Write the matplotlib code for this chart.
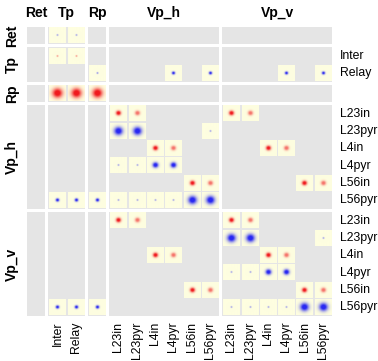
import numpy as np
import matplotlib
matplotlib.use("Agg")
import matplotlib.pyplot as plt
from matplotlib.patches import Rectangle
from matplotlib.colors import to_rgb

# Layers and their populations (row/column order of the connectivity matrix)
layer_names = ["Ret", "Tp", "Rp", "Vp_h", "Vp_v"]
layer_pops = [
    [""],
    ["Inter", "Relay"],
    [""],
    ["L23in", "L23pyr", "L4in", "L4pyr", "L56in", "L56pyr"],
    ["L23in", "L23pyr", "L4in", "L4pyr", "L56in", "L56pyr"],
]

# Connections: target population (row), source population (column),
# signed peak weight (+ excitatory, - inhibitory) and kernel width
conn_target = [
    0, 0,
    1, 1,
    2, 2, 2, 2, 2,
    3, 3, 3,
    4, 4, 4, 4,
    5, 5, 5,
    6, 6, 6, 6,
    7, 7, 7, 7,
    8, 8, 8, 8,
    9, 9, 9, 9, 9, 9, 9, 9, 9,
    10, 10, 10, 10,
    11, 11, 11,
    12, 12, 12, 12,
    13, 13, 13, 13,
    14, 14, 14, 14,
    15, 15, 15, 15, 15, 15, 15, 15, 15,
]
conn_source = [
    1, 2,
    1, 2,
    3, 7, 9, 13, 15,
    1, 2, 3,
    4, 5, 10, 11,
    4, 5, 9,
    6, 7, 12, 13,
    4, 5, 6, 7,
    8, 9, 14, 15,
    1, 2, 3, 4, 5, 6, 7, 8, 9,
    4, 5, 10, 11,
    10, 11, 15,
    6, 7, 12, 13,
    10, 11, 12, 13,
    8, 9, 14, 15,
    1, 2, 3, 10, 11, 12, 13, 14, 15,
]
conn_weight = [
    -0.5, -0.5,
    0.5, 0.5,
    -0.6, -1.0, -1.0, -1.0, -1.0,
    1.0, 1.0, 1.0,
    1.0, 0.6, 1.0, 0.6,
    -1.0, -1.0, -0.5,
    1.0, 0.6, 1.0, 0.6,
    -0.5, -0.5, -1.0, -1.0,
    1.0, 0.6, 1.0, 0.6,
    -1.0, -1.0, -1.0, -0.5, -0.5, -0.5, -0.5, -1.0, -1.0,
    1.0, 0.6, 1.0, 0.6,
    -1.0, -1.0, -0.5,
    1.0, 0.6, 1.0, 0.6,
    -0.5, -0.5, -1.0, -1.0,
    1.0, 0.6, 1.0, 0.6,
    -1.0, -1.0, -1.0, -0.5, -0.5, -0.5, -0.5, -1.0, -1.0,
]
conn_width = [
    0.03, 0.03,
    0.03, 0.03,
    0.03, 0.055, 0.055, 0.055, 0.055,
    0.175, 0.175, 0.175,
    0.085, 0.085, 0.085, 0.085,
    0.15, 0.15, 0.03,
    0.085, 0.085, 0.085, 0.085,
    0.03, 0.03, 0.1, 0.1,
    0.085, 0.085, 0.085, 0.085,
    0.06, 0.06, 0.06, 0.03, 0.03, 0.03, 0.03, 0.15, 0.15,
    0.085, 0.085, 0.085, 0.085,
    0.15, 0.15, 0.03,
    0.085, 0.085, 0.085, 0.085,
    0.03, 0.03, 0.1, 0.1,
    0.085, 0.085, 0.085, 0.085,
    0.06, 0.06, 0.06, 0.03, 0.03, 0.03, 0.03, 0.15, 0.15,
]

BG_GRAY = "#e5e5e5"
PATCH = "#fefee0"
EXC = "#f01a1e"
INH = "#2828f2"

GAP = 0.165
INSET = 0.06

# index -> (block, position) bookkeeping
block_of = []
for b, pops in enumerate(layer_pops):
    block_of += [b] * len(pops)
n = len(block_of)
total = n + GAP * (len(layer_pops) - 1)


def start(i):
    return i + GAP * block_of[i]


fig = plt.figure(figsize=(3.78, 3.61), dpi=100)
W, H = 378, 361
x0, x1, y0, y1 = 27, 332, 27, 316
ax = fig.add_axes([x0 / W, 1 - y1 / H, (x1 - x0) / W, (y1 - y0) / H])
ax.set_xlim(0, total)
ax.set_ylim(total, 0)
ax.axis("off")

# gray block background
first = [block_of.index(b) for b in range(len(layer_pops))]
for br, pr in enumerate(layer_pops):
    for bc, pc in enumerate(layer_pops):
        ax.add_patch(Rectangle((start(first[bc]), start(first[br])), len(pc), len(pr),
                               facecolor=BG_GRAY, edgecolor="none", zorder=1))

# kernels: Gaussian profile blended from the patch colour to the sign colour
res = 48
u = (np.arange(res) + 0.5) / res - 0.5
xx, yy = np.meshgrid(u, u)
rr2 = xx ** 2 + yy ** 2
base = np.array(to_rgb(PATCH))
for t, s, w, sig in zip(conn_target, conn_source, conn_weight, conn_width):
    cx, cy = start(s), start(t)
    ax.add_patch(Rectangle((cx + INSET, cy + INSET), 1 - 2 * INSET, 1 - 2 * INSET,
                           facecolor=PATCH, edgecolor="none", zorder=2))
    col = np.array(to_rgb(EXC if w > 0 else INH))
    g = np.exp(-rr2 / (2 * (sig / (1 - 2 * INSET)) ** 2))
    k = np.clip(abs(w) * 1.25 * g, 0, abs(w))
    img = base[None, None, :] * (1 - k[..., None]) + col[None, None, :] * k[..., None]
    ax.imshow(img, extent=(cx + INSET, cx + 1 - INSET, cy + 1 - INSET, cy + INSET),
              interpolation="bilinear", aspect="auto", zorder=3)

ax.set_xlim(0, total)
ax.set_ylim(total, 0)

bold = dict(family="Liberation Sans", fontsize=10, fontweight="bold")
norm = dict(family="Liberation Sans", fontsize=8.8)

for b, pops in enumerate(layer_pops):
    c = start(first[b]) + len(pops) / 2
    ax.text(c, -0.55, layer_names[b], ha="center", va="baseline", clip_on=False, **bold)
    ax.text(-0.8, c, layer_names[b], ha="center", va="center", rotation=90,
            clip_on=False, **bold)
    for k, p in enumerate(pops):
        if not p:
            continue
        pos = start(first[b] + k) + 0.5
        ax.text(total + 0.42, pos, p, ha="left", va="center", clip_on=False, **norm)
        ax.text(pos, total + 0.32, p, ha="center", va="top", rotation=90,
                clip_on=False, **norm)

fig.savefig("out.png", dpi=100)
